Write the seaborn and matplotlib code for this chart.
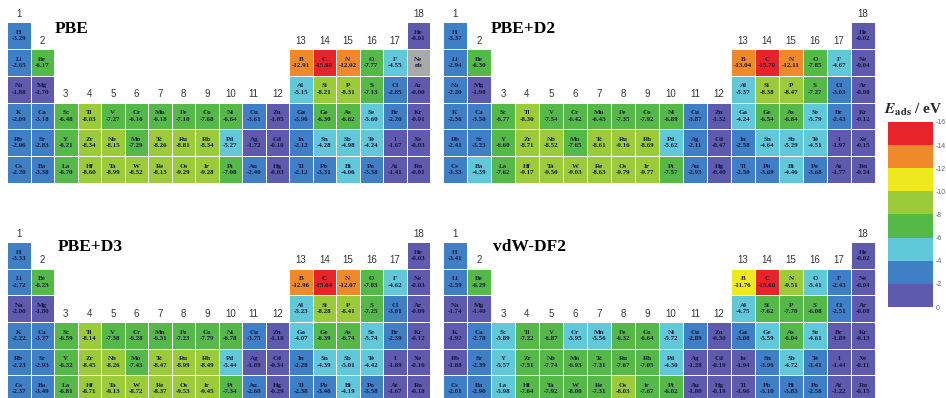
import numpy as np
import pandas as pd
import matplotlib
matplotlib.use("Agg")
import matplotlib.pyplot as plt
import seaborn as sns
from matplotlib.colors import ListedColormap, BoundaryNorm

# ---------------- data ----------------
elements = ["H", "He",
            "Li", "Be", "B", "C", "N", "O", "F", "Ne",
            "Na", "Mg", "Al", "Si", "P", "S", "Cl", "Ar",
            "K", "Ca", "Sc", "Ti", "V", "Cr", "Mn", "Fe", "Co", "Ni", "Cu", "Zn", "Ga", "Ge", "As", "Se", "Br", "Kr",
            "Rb", "Sr", "Y", "Zr", "Nb", "Mo", "Tc", "Ru", "Rh", "Pd", "Ag", "Cd", "In", "Sn", "Sb", "Te", "I", "Xe",
            "Cs", "Ba", "La", "Hf", "Ta", "W", "Re", "Os", "Ir", "Pt", "Au", "Hg", "Tl", "Pb", "Bi", "Po", "At", "Rn"]
periods = [1] * 2 + [2] * 8 + [3] * 8 + [4] * 18 + [5] * 18 + [6] * 18
groups = [1, 18] + [1, 2, 13, 14, 15, 16, 17, 18] * 2 + list(range(1, 19)) * 3

pbe = [-3.29, -0.01,
       -2.65, -6.17, -12.91, -15.60, -12.02, -7.77, -4.55, np.nan,
       -1.88, -1.70, -5.15, -8.21, -8.31, -7.13, -2.85, -0.00,
       -2.09, -3.18, -6.48, -8.03, -7.27, -6.16, -6.18, -7.10, -7.68, -6.64, -3.61, -1.05, -3.96, -6.30, -6.62, -5.60, -2.20, -0.01,
       -2.06, -2.83, -6.21, -8.34, -8.15, -7.29, -8.26, -8.81, -8.34, -5.27, -1.72, -0.10, -2.12, -4.28, -4.98, -4.24, -1.67, -0.03,
       -2.20, -3.38, -6.70, -8.60, -8.99, -8.52, -8.13, -9.29, -9.28, -7.08, -2.40, -0.03, -2.12, -3.31, -4.06, -3.38, -1.41, -0.01]

pbe_d2 = [-3.37, -0.02,
          -2.94, -6.30, -13.04, -15.70, -12.11, -7.85, -4.67, -0.04,
          -2.20, -1.98, -5.37, -8.38, -8.47, -7.27, -3.03, -0.08,
          -2.36, -3.50, -6.77, -8.30, -7.54, -6.42, -6.43, -7.35, -7.92, -6.89, -3.87, -1.32, -4.24, -6.54, -6.84, -5.79, -2.43, -0.12,
          -2.41, -3.23, -6.60, -8.71, -8.52, -7.65, -8.61, -9.16, -8.69, -5.62, -2.11, -0.47, -2.58, -4.64, -5.29, -4.51, -1.97, -0.15,
          -3.33, -4.39, -7.62, -9.17, -9.50, -9.03, -8.63, -9.79, -9.77, -7.57, -2.93, -0.40, -2.50, -3.69, -4.46, -3.68, -1.77, -0.24]

pbe_d3 = [-3.33, -0.03,
          -2.72, -6.23, -12.96, -15.64, -12.07, -7.83, -4.62, -0.03,
          -2.00, -1.80, -5.23, -8.28, -8.41, -7.25, -3.01, -0.09,
          -2.22, -3.27, -6.59, -8.14, -7.38, -6.28, -6.31, -7.23, -7.79, -6.78, -3.75, -1.18, -4.07, -6.39, -6.74, -5.74, -2.39, -0.12,
          -2.23, -2.93, -6.32, -8.45, -8.26, -7.43, -8.47, -8.99, -8.49, -5.44, -1.89, -0.34, -2.28, -4.39, -5.01, -4.42, -1.89, -0.16,
          -2.37, -3.49, -6.81, -8.71, -9.13, -8.72, -8.37, -9.53, -9.45, -7.34, -2.60, -0.29, -2.38, -3.46, -4.19, -3.58, -1.67, -0.18]

vdw_df2 = [-3.41, -0.02,
           -2.59, -6.29, -11.76, -15.60, -9.51, -5.41, -2.43, -0.04,
           -1.74, -1.40, -4.75, -7.62, -7.70, -6.08, -2.51, -0.08,
           -1.92, -2.78, -5.89, -7.22, -6.87, -5.95, -5.56, -6.32, -6.64, -5.72, -2.89, -0.30, -3.08, -5.59, -6.04, -4.61, -1.89, -0.13,
           -1.88, -2.39, -5.57, -7.51, -7.74, -6.93, -7.31, -7.67, -7.05, -4.30, -1.28, -0.19, -1.94, -3.96, -4.72, -3.41, -1.44, -0.11,
           -2.01, -2.90, -5.98, -7.64, -7.92, -8.00, -7.31, -8.03, -7.67, -6.02, -1.80, -0.19, -1.96, -3.10, -3.83, -2.56, -1.22, -0.15]

functionals = ["PBE", "PBE+D2", "PBE+D3", "vdW-DF2"]
series = [pbe, pbe_d2, pbe_d3, vdw_df2]
bounds = [-16, -14, -12, -10, -8, -6, -4, -2, 0]

# ---------------- style ----------------
sns.set_style("white")
plt.rcParams["font.family"] = ["Liberation Serif", "DejaVu Serif"]
plt.rcParams["axes.unicode_minus"] = False
plt.rcParams["mathtext.fontset"] = "stix"

bin_colors = ["#e8242a", "#f0892a", "#eee81c", "#9ccb3a",
              "#55b948", "#60c8d8", "#3e7fc6", "#5e5aae"]
cmap = ListedColormap(bin_colors)
norm = BoundaryNorm(bounds, cmap.N)
nb_cmap = ListedColormap(["#a9a9a9"])

W, H = 946, 398
fig = plt.figure(figsize=(W / 100, H / 100), dpi=100)

# panel extents in pixels: (left, top, right, bottom)
extents = [(7, 22, 430, 183), (443, 22, 875, 183),
           (7, 242, 430, 402), (443, 242, 875, 402)]
title_pos = [(2.05, 0.27), (1.97, 0.27), (2.17, 0.20), (2.10, 0.20)]

cax = fig.add_axes([888 / W, 1 - 307 / H, 45 / W, 185 / H])

cell_kws = dict(fontsize=5, fontweight="bold", color="#14163a",
                family="Liberation Serif", linespacing=1.35)

for k, (name, vals) in enumerate(zip(functionals, series)):
    l, t, r, b = extents[k]
    ax = fig.add_axes([l / W, 1 - b / H, (r - l) / W, (b - t) / H])
    df = pd.DataFrame({"el": elements, "period": periods, "group": groups, "E": vals})
    df["lab"] = [f"{e}\n{v:.2f}" if not np.isnan(v) else f"{e}\nnb"
                 for e, v in zip(df["el"], df["E"])]
    grid = (df.pivot(index="period", columns="group", values="E")
              .reindex(index=range(1, 7), columns=range(1, 19)))
    labs = (df.pivot(index="period", columns="group", values="lab")
              .reindex(index=range(1, 7), columns=range(1, 19)).fillna(""))

    nb = df[df["E"].isna()]
    if len(nb):
        nb_grid = (nb.assign(z=0.0).pivot(index="period", columns="group", values="z")
                     .reindex(index=range(1, 7), columns=range(1, 19)))
        sns.heatmap(nb_grid, ax=ax, cmap=nb_cmap, annot=labs.values, fmt="",
                    annot_kws=cell_kws, cbar=False, linewidths=0.5,
                    linecolor="white", xticklabels=False, yticklabels=False)

    sns.heatmap(grid, ax=ax, cmap=cmap, norm=norm, annot=labs.values, fmt="",
                annot_kws=cell_kws, cbar=(k == 0), cbar_ax=cax if k == 0 else None,
                cbar_kws={"ticks": bounds} if k == 0 else None,
                linewidths=0.5, linecolor="white",
                xticklabels=False, yticklabels=False)
    ax.set_xlabel("")
    ax.set_ylabel("")

    # group numbers above the top cell of each column
    tops = df.groupby("group")["period"].min()
    for g, p in tops.items():
        ax.text(g - 0.5, p - 1 - 0.12, str(g), ha="center", va="bottom",
                fontsize=7, family="Liberation Sans", color="#333333")

    tx, ty = title_pos[k]
    ax.text(tx, ty, name, ha="left", va="center", fontsize=12.5,
            fontweight="bold", family="Liberation Serif", color="black")

# colorbar styling
cax.invert_yaxis()
cax.set_yticks(bounds)
cax.set_yticklabels([str(b) for b in bounds])
cax.tick_params(axis="y", length=0, pad=2, labelsize=5, labelcolor="#666666")
for lab in cax.get_yticklabels():
    lab.set_family("Liberation Sans")

fig.text(913 / W, 1 - 110 / H, r"$\mathbfit{E}_{\mathbf{ads}}$ / eV",
         ha="center", va="center", fontsize=11, fontweight="bold",
         family="Liberation Serif")

fig.savefig("out.png", dpi=100)
